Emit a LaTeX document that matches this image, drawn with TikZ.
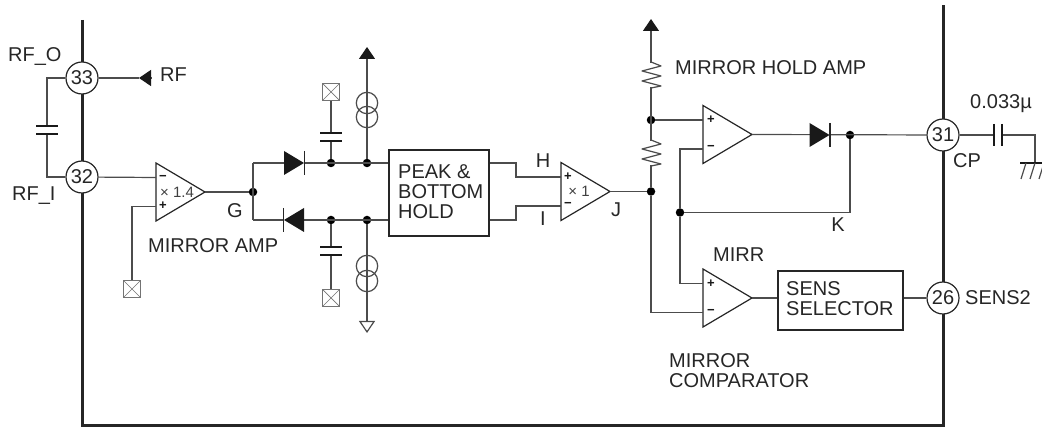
\documentclass[tikz,border=0pt]{standalone}
\usepackage{fontspec}
\setmainfont{Liberation Sans}
\usetikzlibrary{arrows.meta}

\begin{document}
\begin{tikzpicture}[x=1pt, y=-1pt]
\tikzset{dot/.style={circle,fill=#1,inner sep=0,minimum size=8.5pt}}
\tikzset{wire/.style={draw=black!70,line width=1.2pt}}
\tikzset{bar/.style={draw=black!85,line width=3pt}}
\tikzset{plate/.style={draw=black!90,line width=1.8pt}}
\tikzset{lab/.style={inner sep=0,text=black!85,font=\fontsize{20}{20}\selectfont}}
\tikzset{pin/.style={circle,draw=black!85,fill=white,line width=1.2pt,inner sep=0,minimum size=32pt,text=black!85,font=\fontsize{20}{20}\selectfont}}
\tikzset{block/.style={draw=black!85,line width=2.2pt,fill=white,inner sep=0,anchor=north west}}
\tikzset{nc/.style={draw=black!55,line width=1pt,inner sep=0,minimum size=17pt,path picture={\draw[black!55,line width=.7pt] (path picture bounding box.south west) -- (path picture bounding box.north east) (path picture bounding box.north west) -- (path picture bounding box.south east);}}}
\tikzset{sign/.style={inner sep=0,text=black!90,font=\fontsize{13}{13}\bfseries\selectfont}}
\tikzset{gain/.style={inner sep=0,text=black!75,font=\fontsize{15}{15}\selectfont}}
\tikzset{solidtip/.style={-{Triangle[length=12pt,width=16pt,color=black!90]}}}

\useasboundingbox (0,0) rectangle (1042,427);

% outline of the chip
\coordinate (lt) at (82,20);
\coordinate (rt) at (943,5);
\coordinate (lb) at (82,425.5);
\coordinate (rb) at (943,425.5);
\draw[bar,line join=miter] (lt) -- (lb) -- (rb) -- (rt);

% pins
\node[pin] (pin33) at (82,78) {33};
\node[pin] (pin32) at (82,177) {32};
\node[pin] (pin31) at (943,135) {31};
\node[pin] (pin26) at (943,298) {26};

% blocks
\node[block,minimum width=100pt,minimum height=86pt] (peak) at (388,149) {};
\node[block,minimum width=125pt,minimum height=59pt] (sens) at (777,270) {};

% amplifiers - name/left side/centre line
\foreach \n/\px/\py in {mamp/156/192,uamp/561/191.5,hamp/703/134.5,camp/703/298} {
  \coordinate (\n t) at (\px,\py-14.5);
  \coordinate (\n b) at (\px,\py+14.5);
  \coordinate (\n o) at (\px+49,\py);
  \draw[black!85,line width=1.2pt,fill=white,line join=miter] (\px,\py-29) -- (\n o) -- (\px,\py+29) -- cycle;
}

% junctions
\node[dot=black] (g) at (253,192) {};
\node[dot=black] (ct) at (331,163) {};
\node[dot=black] (cb) at (331,220) {};
\node[dot=black] (st) at (367,163) {};
\node[dot=black] (sb) at (367,220) {};
\node[dot=black] (rm) at (651,120) {};
\node[dot=black] (j) at (651,191.5) {};
\node[dot=black] (fb) at (680,212.5) {};
\node[dot=black] (k) at (850,135) {};

% open input boxes
\node[nc] (nc1) at (132,289) {};
\node[nc] (nc2) at (331,92) {};
\node[nc] (nc3) at (331,298) {};

% helper points
\coordinate (rfbase) at (151,78);
\coordinate (rftip) at (139,78);
\coordinate (cl) at (47,130);
\coordinate (gt) at (253,163);
\coordinate (gb) at (253,220);
\coordinate (hb) at (516,163);
\coordinate (ib) at (516,220);
\coordinate (vcc1) at (367,47);
\coordinate (gnd1) at (367,333);
\coordinate (vcc2) at (651,19);
\coordinate (c31) at (998,135);
\coordinate (gndc) at (1035,163);

% wires on the left
\draw[wire] (pin33) -- (rftip);
\draw[wire,solidtip] (rfbase) -- (rftip);
\draw[wire] (pin33) -| (cl) |- (pin32);
\draw[wire] (pin32) -- (mampt);
\draw[wire] (mampb) -| (nc1);
\draw[wire] (mampo) -- (g);
\draw[wire] (gb) -- (gt);
\draw[wire] (gt) -- (peak.west |- gt);
\draw[wire] (gb) -- (peak.west |- gb);
\draw[wire] (nc2) -- (ct);
\draw[wire] (nc3) -- (cb);
\draw[wire,solidtip] (st) -- (vcc1);
\draw[wire,-{Triangle[open,length=12pt,width=16pt]}] (sb) -- (gnd1);

% wires on the right
\draw[wire] (peak.east |- gt) -- (hb) -- (hb |- uampt) -- (uampt);
\draw[wire] (peak.east |- gb) -- (ib) -- (ib |- uampb) -- (uampb);
\draw[wire] (uampo) -- (j);
\draw[wire,solidtip] (j) -- (vcc2);
\draw[wire] (rm) -- (hampt);
\draw[wire] (j) |- (campb);
\draw[wire] (hampb) -| (fb) |- (campt);
\draw[wire] (fb) -| (k);
\draw[wire] (hampo) -- (pin31);
\draw[wire] (campo) -- (sens.west |- campo);
\draw[wire] (sens.east |- pin26) -- (pin26);
\draw[wire] (pin31) -- (c31);
\draw[wire] (c31) -| (gndc);

% capacitors
\fill[white] (36,127) rectangle (58,133);
\fill[white] (320,134) rectangle (342,140);
\fill[white] (320,248) rectangle (342,254);
\fill[white] (995,124) rectangle (1001,146);
\foreach \px/\py in {47/126,47/134,331/133,331/141,331/247,331/255}
  \draw[plate] (\px-11,\py) -- (\px+11,\py);
\foreach \px in {994,1002}
  \draw[plate] (\px,124) -- (\px,146);

% diodes
\foreach \px/\py/\dir in {294/163/1,294/220/-1,819.5/135/1} {
  \begin{scope}[shift={(\px,\py)},xscale=\dir]
  \fill[white] (-10,-12) rectangle (10,12);
  \fill[black!90] (-10,-12) -- (10,0) -- (-10,12) -- cycle;
  \draw[black!85,line width=1.1pt] (10.5,-12) -- (10.5,12);
  \end{scope}
}

% current sources
\foreach \py in {103,117,266,281}
  \draw[wire] (367,\py) circle (10.7);

% resistors
\foreach \py in {62,140} {
  \fill[white] (640,\py+1) rectangle (662,\py+25);
  \draw[wire,line join=round] (651,\py) -- ++(10,4) -- ++(-19,5) -- ++(19,5) -- ++(-19,5) -- ++(19,5) -- ++(-10,2);
}

% ground on the right edge
\draw[plate] (1020,163) -- (1042,163);
\foreach \px in {1021,1030,1039}
  \draw[wire] (\px,179) -- (\px+5,163);

% text
\node[lab,anchor=west] (rfo) at (8,57) {RF\_O};
\node[lab,anchor=west] (rfi) at (12,196) {RF\_I};
\node[lab,anchor=west] (rf) at (160,75) {RF};
\node[lab,anchor=west] (mirroramp) at (148,246) {MIRROR AMP};
\node[lab,anchor=center] (glab) at (235,211) {G};
\node[lab,anchor=north west,align=left] (peaktxt) at (398,164.5) {PEAK \&\\BOTTOM\\HOLD};
\node[lab,anchor=center] (hlab) at (543,161) {H};
\node[lab,anchor=center] (ilab) at (543,219) {I};
\node[lab,anchor=center] (jlab) at (616,210) {J};
\node[lab,anchor=west] (holdamp) at (675,68) {MIRROR HOLD AMP};
\node[lab,anchor=center] (klab) at (838,225) {K};
\node[lab,anchor=west] (mirr) at (713,255) {MIRR};
\node[lab,anchor=north west,align=left] (comp) at (669,353) {MIRROR\\COMPARATOR};
\node[lab,anchor=north west,align=left] (senstxt) at (786,281) {SENS\\SELECTOR};
\node[lab,anchor=west] (cp) at (953,161) {CP};
\node[lab,anchor=west] (sens2) at (965,298) {SENS2};
\node[lab,anchor=center] (capval) at (1001,104) {0.033µ};

% marks inside the amplifiers
\node[sign] (s1) at (163,178) {−};
\node[sign] (s2) at (163,206) {+};
\node[sign] (s3) at (568,177) {+};
\node[sign] (s4) at (568,205) {−};
\node[sign] (s5) at (711,120) {+};
\node[sign] (s6) at (711,148) {−};
\node[sign] (s7) at (711,284) {+};
\node[sign] (s8) at (711,312) {−};
\node[gain] (g1) at (177,192) {× 1.4};
\node[gain] (g2) at (579,191.5) {× 1};

\end{tikzpicture}
\end{document}
